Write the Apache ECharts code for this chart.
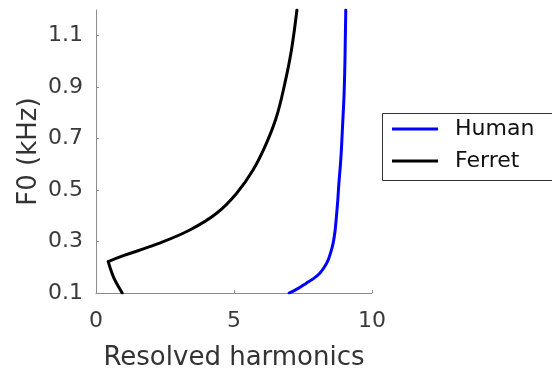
<!DOCTYPE html>
<html>
<head>
<meta charset="utf-8">
<script src="https://cdn.jsdelivr.net/npm/echarts@6/dist/echarts.min.js"></script>
<style>
html,body{margin:0;padding:0;background:#fff;}
#chart{width:552px;height:371px;}
</style>
</head>
<body>
<div id="chart"></div>
<script>
// Data (F0 in kHz, resolved harmonics)
const humanF0 = [0.10, 0.118, 0.138, 0.156, 0.176, 0.20, 0.228, 0.26, 0.293, 0.34, 0.396, 0.46, 0.526, 0.59, 0.655, 0.72, 0.785, 0.85, 0.914, 1.00, 1.07, 1.20];
const humanRH = [7.00, 7.33, 7.62, 7.88, 8.10, 8.27, 8.41, 8.51, 8.59, 8.66, 8.71, 8.76, 8.80, 8.85, 8.89, 8.92, 8.95, 8.98, 9.00, 9.02, 9.03, 9.05];

// Ferret: low-F0 branch (up to the corner) and upper branch (from the corner)
const ferretLowF0 = [0.10, 0.135, 0.163, 0.195, 0.222];
const ferretLowRH = [0.95, 0.76, 0.63, 0.52, 0.445];
const ferretHighF0 = [0.222, 0.245, 0.29, 0.345, 0.41, 0.487, 0.578, 0.681, 0.785, 0.914, 1.044, 1.20];
const ferretHighRH = [0.445, 0.99, 2.20, 3.40, 4.37, 5.09, 5.69, 6.17, 6.54, 6.84, 7.08, 7.28];

const yTicks = [0.1, 0.3, 0.5, 0.7, 0.9, 1.1];
const xTicks = [0, 5, 10];
const seriesNames = ['Human', 'Ferret'];

const pair = (xs, ys) => xs.map((x, i) => [x, ys[i]]);

const font = 'DejaVu Sans';
const chart = echarts.init(document.getElementById('chart'), null, {renderer: 'canvas'});
const lineCommon = {type: 'line', showSymbol: false, symbol: 'none', z: 3};
chart.setOption({
  animation: false,
  backgroundColor: '#ffffff',
  grid: {left: 96, right: 180, top: 10, bottom: 78, containLabel: false, outerBoundsMode: 'none'},
  graphic: [{
    type: 'rect', z: 0,
    shape: {x: 382.5, y: 113.5, width: 200, height: 67},
    style: {fill: '#ffffff', stroke: '#333333', lineWidth: 1}
  }],
  legend: {
    z: 10,
    data: seriesNames,
    orient: 'vertical',
    left: 392, top: 117, padding: 0,
    itemWidth: 46, itemHeight: 3,
    itemGap: 8,
    icon: 'rect',
    textStyle: {fontFamily: font, fontSize: 22, color: '#111', padding: [0, 0, 0, 12], lineHeight: 24}
  },
  xAxis: {
    type: 'value', min: 0, max: 10, interval: 5,
    name: 'Resolved harmonics', nameLocation: 'middle', nameGap: 52,
    nameTextStyle: {fontFamily: font, fontSize: 26, color: '#333'},
    axisLine: {show: true, lineStyle: {color: '#8c8c8c', width: 1}},
    axisTick: {show: true, inside: true, length: 3, lineStyle: {color: '#8c8c8c'}},
    axisLabel: {fontFamily: font, fontSize: 22, color: '#3a3a3a', margin: 17,
      customValues: xTicks, formatter: v => String(v)},
    splitLine: {show: false}
  },
  yAxis: {
    type: 'value', min: 0.1, max: 1.2,
    name: 'F0 (kHz)', nameLocation: 'middle', nameGap: 54,
    nameTextStyle: {fontFamily: font, fontSize: 26, color: '#333'},
    axisLine: {show: true, lineStyle: {color: '#8c8c8c', width: 1}},
    axisTick: {show: true, inside: true, length: 3, customValues: yTicks, lineStyle: {color: '#8c8c8c'}},
    axisLabel: {fontFamily: font, fontSize: 22, color: '#3a3a3a', margin: 13,
      customValues: yTicks, formatter: v => v.toFixed(1)},
    splitLine: {show: false}
  },
  series: [
    Object.assign({}, lineCommon, {name: seriesNames[0], data: pair(humanRH, humanF0),
      smooth: 0.3, color: '#0000ff', lineStyle: {width: 3, color: '#0000ff', cap: 'round'}}),
    Object.assign({}, lineCommon, {name: seriesNames[1], data: pair(ferretLowRH, ferretLowF0),
      smooth: 0.3, color: '#000000', lineStyle: {width: 3, color: '#000000', cap: 'round'}}),
    Object.assign({}, lineCommon, {name: seriesNames[1], data: pair(ferretHighRH, ferretHighF0),
      smooth: 0.4, color: '#000000', lineStyle: {width: 3, color: '#000000', cap: 'round'}})
  ]
});
</script>
</body>
</html>
